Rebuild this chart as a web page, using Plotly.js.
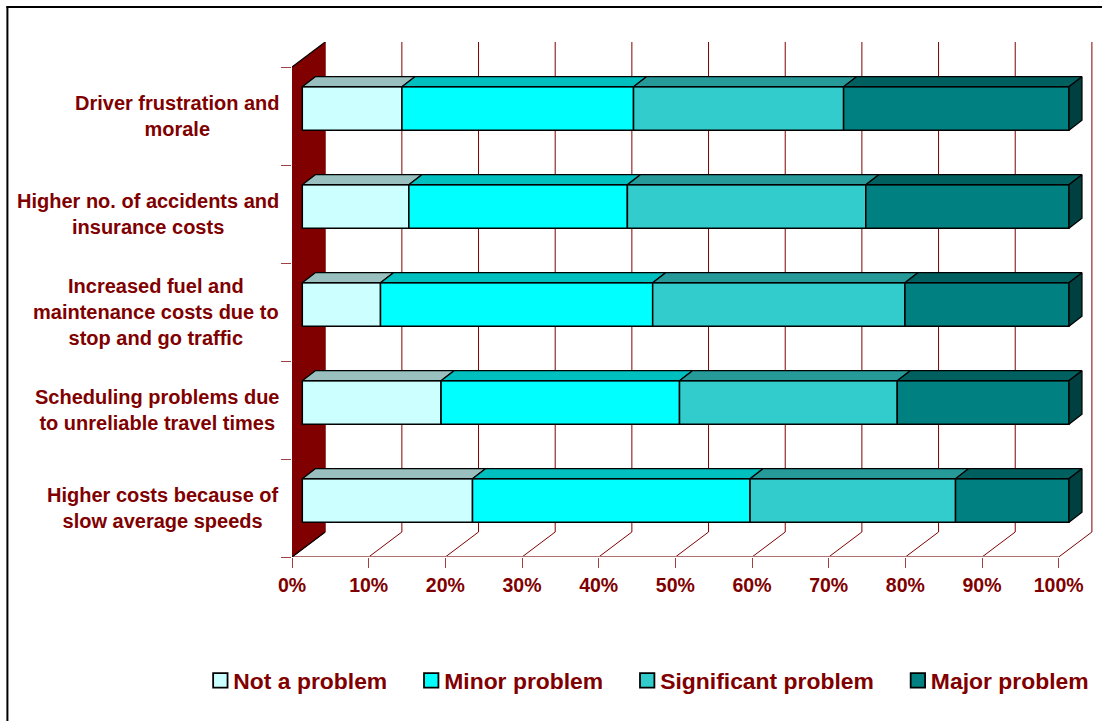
<!DOCTYPE html>
<html><head><meta charset="utf-8">
<script src="https://cdn.plot.ly/plotly-3.0.1.min.js"></script>
<style>html,body{margin:0;padding:0;background:#fff}
g.legendpoints path{transform:translate(39px,0) scale(1.2)}</style></head>
<body><div id="chart" style="width:1102px;height:721px"></div>
<script>
const categories = ["Higher costs because of<br>slow average speeds",
  "Scheduling problems due<br>to unreliable travel times",
  "Increased fuel and<br>maintenance costs due to<br>stop and go traffic",
  "Higher no. of accidents and<br>insurance costs",
  "Driver frustration and<br>morale"];
const notAProblem = [22.2, 18.1, 10.2, 13.9, 13.0];
const minorProblem = [36.2, 31.1, 35.5, 28.5, 30.2];
const significantProblem = [26.8, 28.4, 32.9, 31.1, 27.4];
const majorProblem = [14.8, 22.4, 21.4, 26.5, 29.4];
const tickValues = [0,10,20,30,40,50,60,70,80,90,100];
const tickLabels = ["0%","10%","20%","30%","40%","50%","60%","70%","80%","90%","100%"];
const seriesNames = ["Not a problem","Minor problem","Significant problem","Major problem"];
const seriesValues = [notAProblem, minorProblem, significantProblem, majorProblem];
const frontColors = ["#CCFFFF","#00FFFF","#33CCCC","#008080"];
const topColors = ["#99BFBF","#00BFBF","#269999","#006060"];
const sideColor = "#004040";

const RED = "#800000";
const FONT = "Liberation Sans, Arial, sans-serif";
const pxX = 7.67, pxY = 98;               // px per x unit, px per category
const left = 291.7, floor = 557, top_ = 42, right = 1095;
const wallDX = 33.2/pxX, wallDY = 25/pxY;
const barOffX = 10.3/pxX, barOffY = 7.6/pxY;
const barDX = 13/pxX, barDY = 10/pxY;
const barH = 43.5/pxY;
const paperX = p => (p-left)/(right-left);
const paperY = p => (floor-p)/(floor-top_);

const traces = [];
const cum = categories.map(()=>0);
seriesValues.forEach((vals,s)=>{
  const base = vals.map((v,i)=>barOffX+cum[i]);
  const ys = categories.map((c,i)=>i+0.5+barOffY);
  traces.push({type:"bar",orientation:"h",name:seriesNames[s],x:vals,y:ys,base:base,width:barH,
    marker:{color:frontColors[s],line:{color:"#000",width:1.5}},hoverinfo:"x+name"});
  const tx=[],ty=[];
  vals.forEach((v,i)=>{
    const yt=ys[i]+barH/2;
    tx.push(base[i],base[i]+v,base[i]+v+barDX,base[i]+barDX,base[i],null);
    ty.push(yt,yt,yt+barDY,yt+barDY,yt,null);
  });
  traces.push({type:"scatter",mode:"lines",x:tx,y:ty,fill:"toself",fillcolor:topColors[s],
    line:{color:"#000",width:1.2},showlegend:false,hoverinfo:"skip"});
  vals.forEach((v,i)=>{cum[i]+=v;});
});
{
  const sx=[],sy=[];
  categories.forEach((c,i)=>{
    const xe=barOffX+cum[i], yc=i+0.5+barOffY, yb=yc-barH/2, yt=yc+barH/2;
    sx.push(xe,xe+barDX,xe+barDX,xe,xe,null);
    sy.push(yb,yb+barDY,yt+barDY,yt,yb,null);
  });
  traces.push({type:"scatter",mode:"lines",x:sx,y:sy,fill:"toself",fillcolor:sideColor,
    line:{color:"#000",width:1.2},showlegend:false,hoverinfo:"skip"});
}
traces.push({type:"scatter",mode:"lines",x:[0,100],y:[0,0],cliponaxis:false,
  line:{color:"#B07070",width:2},showlegend:false,hoverinfo:"skip"});
const n = categories.length;
traces.push({type:"scatter",mode:"lines",x:[0,wallDX,null,0,wallDX],y:[0,wallDY,null,n,n+wallDY],
  cliponaxis:false,line:{color:"#000",width:1.2},showlegend:false,hoverinfo:"skip"});

const shapes = [];
tickValues.forEach(t=>{
  shapes.push({type:"path",layer:"below",xref:"x",yref:"y",
    path:`M${t},0 L${t+wallDX},${wallDY} L${t+wallDX},${n+wallDY}`,
    line:{color:RED,width:1},fillcolor:"rgba(0,0,0,0)"});
});
shapes.push({type:"path",layer:"below",xref:"x",yref:"y",
  path:`M0,0 L${wallDX},${wallDY} L${wallDX},${n+wallDY} L0,${n} Z`,
  fillcolor:RED,line:{width:0}});
shapes.push({type:"line",xref:"paper",yref:"paper",layer:"below",
  x0:paperX(7),x1:paperX(7),y0:paperY(730),y1:paperY(6),line:{color:"#000",width:2}});
shapes.push({type:"line",xref:"paper",yref:"paper",layer:"below",
  x0:paperX(6),x1:paperX(1110),y0:paperY(7),y1:paperY(7),line:{color:"#000",width:2}});

const annotations = categories.map((c,i)=>({
  text:c,xref:"paper",yref:"paper",x:paperX(279.3),y:paperY(floor-(i+0.5)*pxY),xanchor:"right",yanchor:"middle",
  align:"center",showarrow:false,borderpad:0,
  font:{family:FONT,size:20,color:RED,weight:700}
}));

const layout = {
  width:1102,height:721,autosize:false,showlegend:true,barmode:"overlay",
  paper_bgcolor:"#fff",plot_bgcolor:"rgba(0,0,0,0)",
  margin:{l:left,r:1102-right,t:top_,b:721-floor,pad:0},
  font:{family:FONT,color:RED},
  xaxis:{range:[0,(right-left)/pxX],tickmode:"array",tickvals:tickValues,ticktext:tickLabels,
    ticks:"outside",ticklen:10,tickwidth:1,tickcolor:"#A04040",showgrid:false,zeroline:false,showline:false,
    tickangle:0,ticklabelstandoff:1,tickfont:{family:FONT,size:19.5,color:RED,weight:700}},
  yaxis:{range:[0,(floor-top_)/pxY],tickmode:"array",tickvals:[0,1,2,3,4,5],ticktext:["","","","","",""],
    ticks:"outside",ticklen:10,tickwidth:1,tickcolor:"#A04040",showgrid:false,zeroline:false,showline:false},
  legend:{orientation:"h",x:paperX(181),xanchor:"left",y:paperY(659),yanchor:"top",itemwidth:42,
    font:{family:FONT,size:22.9,color:RED,weight:700},
    traceorder:"normal",bgcolor:"rgba(0,0,0,0)",borderwidth:0},
  shapes:shapes,annotations:annotations
};
Plotly.newPlot("chart",traces,layout,{displayModeBar:false,staticPlot:true});
</script></body></html>
